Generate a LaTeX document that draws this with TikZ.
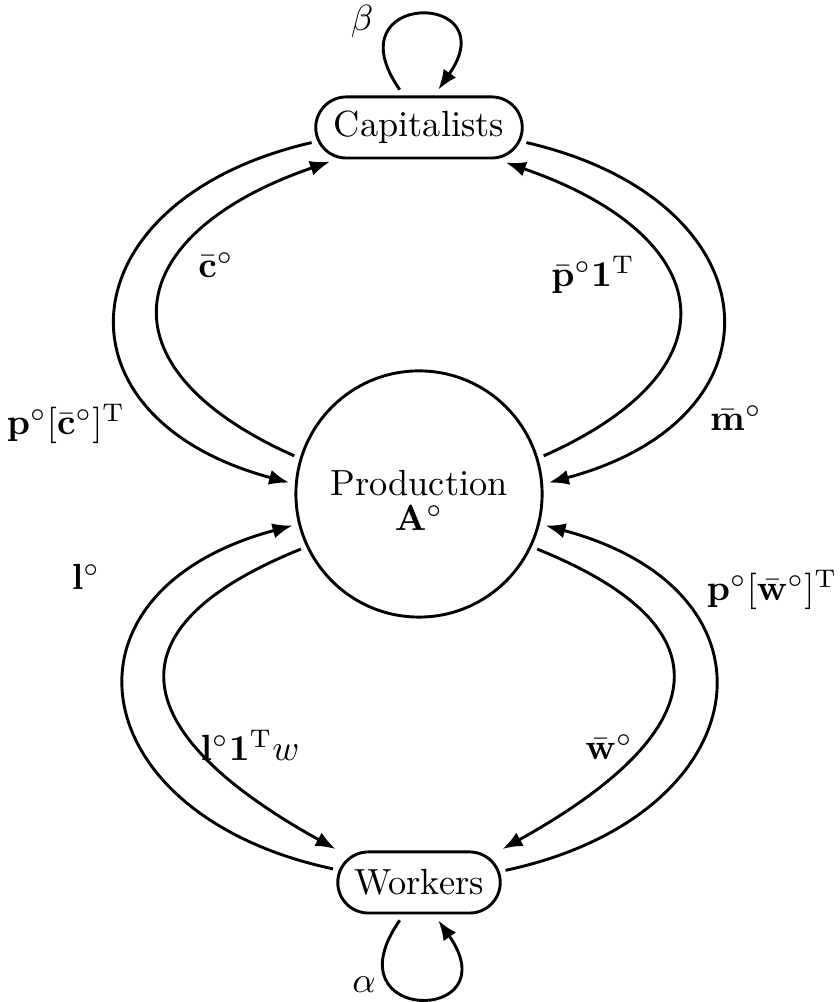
\documentclass[tikz,border=0pt]{standalone}
\usepackage{amsmath}
\usetikzlibrary{arrows.meta,shapes.misc}

\begin{document}
\begin{tikzpicture}[
  x=0.275pt, y=0.275pt,
  group/.style={draw, thick, rounded rectangle, minimum height=16.8pt, inner xsep=3.7pt, outer sep=2pt},
  sector/.style={draw, thick, circle, minimum size=67.7pt, align=center, text height=20.3pt, outer sep=2pt},
  arrow/.style={-{Latex[length=5.5pt,width=4.2pt]}, thick},
  flow/.style={arrow, looseness=1.9}
]
\useasboundingbox (0,0) rectangle (839,1002);

\node[group] (cap) at (419,874.5) {Capitalists};
\node[sector] (prod) at (419,508) {Production\\[-2.4pt]$\mathbf{A}^{\circ}$};
\node[group] (work) at (419,119.5) {Workers};

% self loops
\draw[arrow] (cap.117) to[out=125, in=55, distance=33.5pt] (cap.63);
\draw[arrow] (work.243) to[out=235, in=305, distance=35pt] (work.297);
\node (beta) at (362,981) {$\beta$};
\node (alpha) at (364,17) {$\alpha$};

% capitalists <-> production
\draw[flow] (cap.188) to[out=193, in=165] (prod.175);
\draw[flow] (prod.163) to[out=156, in=199] (cap.201.6);
\draw[flow] (cap.352) to[out=-13, in=15] (prod.5);
\draw[flow] (prod.17) to[out=24, in=-19] (cap.338.4);

% workers <-> production
\draw[flow] (work.171.7) to[out=168, in=195] (prod.194);
\draw[flow, shorten >=2.6pt] (prod.205) to[out=202, in=151] (work.159);
\draw[flow] (work.8.3) to[out=12, in=-15] (prod.346);
\draw[flow, shorten >=2.6pt] (prod.335) to[out=-22, in=29] (work.21);

% labels
\node (pc) at (66,578) {$\mathbf{p}^{\circ}[\bar{\mathbf{c}}^{\circ}]^{\mathrm{T}}$};
\node (c) at (216,737) {$\bar{\mathbf{c}}^{\circ}$};
\node (p1) at (593,727) {$\bar{\mathbf{p}}^{\circ}\mathbf{1}^{\mathrm{T}}$};
\node (m) at (736,584) {$\bar{\mathbf{m}}^{\circ}$};
\node (pw) at (772,412) {$\mathbf{p}^{\circ}[\bar{\mathbf{w}}^{\circ}]^{\mathrm{T}}$};
\node (l) at (86,425) {$\mathbf{l}^{\circ}$};
\node (l1w) at (250,257) {$\mathbf{l}^{\circ}\mathbf{1}^{\mathrm{T}}w$};
\node (w) at (609,255) {$\bar{\mathbf{w}}^{\circ}$};
\end{tikzpicture}
\end{document}
